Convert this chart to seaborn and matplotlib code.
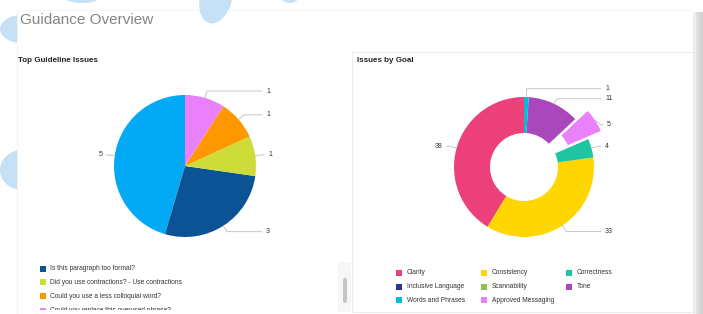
import numpy as np
import matplotlib
matplotlib.use("Agg")
import matplotlib.pyplot as plt
import seaborn as sns
from matplotlib.patches import Rectangle, Ellipse, FancyBboxPatch

# ---------------- data ----------------
guideline_labels = ["", "Is this paragraph too formal?",
                    "Did you use contractions? - Use contractions",
                    "Could you use a less colloquial word?",
                    "Could you replace this overused phrase?"]
guideline_counts = [5, 3, 1, 1, 1]
guideline_colors = ["#03A9F4", "#0B5394", "#CDDC39", "#FF9800", "#EA80FC"]

goal_labels = ["Clarity", "Consistency", "Correctness", "Inclusive Language",
               "Scannability", "Tone", "Words and Phrases", "Approved Messaging"]
goal_counts = [38, 33, 4, 0, 0, 11, 1, 5]
goal_colors = ["#EC407A", "#FFD600", "#1DC5A0", "#283593",
               "#8BC34A", "#AB47BC", "#00BCD4", "#EA80FC"]
goal_pie_order = ["Clarity", "Consistency", "Correctness",
                  "Approved Messaging", "Tone", "Words and Phrases"]
exploded_goal = "Approved Messaging"

# ---------------- figure ----------------
W, H = 703, 314
sns.set_theme(style="white")
plt.rcParams['font.family'] = ['Liberation Sans', 'DejaVu Sans']
fig = plt.figure(figsize=(W / 100, H / 100), dpi=100)
fig.patch.set_facecolor("white")
ax = fig.add_axes([0, 0, 1, 1])


def Y(py):
    return H - py


blob = "#C6E0F5"
# background blobs (behind card)
for (x, y, w, h) in [(22, 29, 44, 28), (22, 170, 44, 40)]:
    ax.add_patch(Ellipse((x, Y(y)), w, h, facecolor=blob, edgecolor="none", zorder=0))
# card
ax.add_patch(Rectangle((17, 0), 676, Y(10), facecolor="white", edgecolor="none", zorder=1))
ax.plot([17, 17], [0, Y(10)], color="#f0f0f0", lw=0.6, zorder=1.1)
ax.plot([17, 693], [Y(10), Y(10)], color="#f3f3f3", lw=0.6, zorder=1.1)
# top blobs
ax.add_patch(Ellipse((82, Y(-8)), 46, 22, facecolor=blob, edgecolor="none", zorder=2))
ax.add_patch(Ellipse((216, Y(-2)), 32, 52, angle=-15, facecolor=blob, edgecolor="none", zorder=2))
ax.add_patch(Ellipse((290, Y(-4)), 18, 14, facecolor=blob, edgecolor="none", zorder=2))
# right grey edge
for i, c in enumerate(["#eeeeee", "#e2e2e2", "#d8d8d8", "#d2d2d2"]):
    ax.add_patch(Rectangle((693 + i * 2.5, 0), 2.6, Y(12), facecolor=c, edgecolor="none", zorder=1.2))

# right panel border
ax.add_patch(Rectangle((352, Y(312)), 341, 260, facecolor="none", edgecolor="#ebebeb", lw=0.7, zorder=1.3))

# scrollbar
ax.add_patch(Rectangle((338, Y(312)), 13, 50, facecolor="#f6f6f6", edgecolor="none", zorder=1.3))
ax.add_patch(FancyBboxPatch((343, Y(303)), 4, 25, boxstyle="round,pad=0,rounding_size=2",
                            facecolor="#c4c4c4", edgecolor="none", zorder=1.4))

# titles
ax.text(20, Y(20), "Guidance Overview", fontsize=11, color="#858585", va="center", zorder=5)
ax.text(18, Y(60), "Top Guideline Issues", fontsize=5.8, fontweight="bold", color="#222222",
        va="center", zorder=5)
ax.text(357, Y(60), "Issues by Goal", fontsize=5.8, fontweight="bold", color="#222222",
        va="center", zorder=5)


def draw_leaders(wedges, values, cx, cy, r, right_end, left_end, label_vals):
    items = []
    for w, v, lab in zip(wedges, values, label_vals):
        if v <= 0:
            continue
        th = np.deg2rad((w.theta1 + w.theta2) / 2)
        d = np.array([np.cos(th), np.sin(th)])
        wc = np.array(w.center)
        p0 = wc + r * d
        ly = cy + 1.1 * r * d[1]
        items.append({"p0": p0, "d": d, "y": ly, "lab": lab, "right": d[0] >= 0})
    for side in (True, False):
        grp = sorted([it for it in items if it["right"] == side], key=lambda it: -it["y"])
        for _ in range(50):
            moved = False
            for a, b in zip(grp[:-1], grp[1:]):
                gap = a["y"] - b["y"]
                if gap < 10:
                    shift = (10 - gap) / 2
                    a["y"] += shift
                    b["y"] -= shift
                    moved = True
            if not moved:
                break
    for it in items:
        p0 = it["p0"]
        x1 = p0[0] + 0.1 * r * it["d"][0]
        if it["right"]:
            xe = max(right_end, x1 + 2)
            ax.plot([p0[0], x1, xe], [p0[1], it["y"], it["y"]], color="#bdbdbd", lw=0.6, zorder=4)
            ax.text(xe + 4, it["y"], str(it["lab"]), fontsize=5, color="#333333",
                    ha="left", va="center", zorder=5)
        else:
            xe = min(left_end, x1 - 2)
            ax.plot([p0[0], x1, xe], [p0[1], it["y"], it["y"]], color="#bdbdbd", lw=0.6, zorder=4)
            ax.text(xe - 3, it["y"], str(it["lab"]), fontsize=5, color="#333333",
                    ha="right", va="center", zorder=5)


# ---------------- left pie ----------------
pal_left = sns.color_palette(guideline_colors)
cx1, cy1, r1 = 185, Y(166), 71
w1, _ = ax.pie(guideline_counts, colors=pal_left, center=(cx1, cy1), radius=r1,
               startangle=90, counterclock=True, wedgeprops=dict(linewidth=0))
for w in w1:
    w.set_zorder(3)
draw_leaders(w1, guideline_counts, cx1, cy1, r1, 262, 106, guideline_counts)

# ---------------- donut ----------------
gmap = dict(zip(goal_labels, goal_counts))
cmap = dict(zip(goal_labels, goal_colors))
d_vals = [gmap[g] for g in goal_pie_order]
d_cols = sns.color_palette([cmap[g] for g in goal_pie_order])
d_expl = [15 if g == exploded_goal else 0 for g in goal_pie_order]
cx2, cy2, r2 = 524, Y(167), 70
w2, _ = ax.pie(d_vals, colors=d_cols, center=(cx2, cy2), radius=r2, explode=d_expl,
               startangle=90, counterclock=True, wedgeprops=dict(width=36, linewidth=0))
for w in w2:
    w.set_zorder(3)
draw_leaders(w2, d_vals, cx2, cy2, r2, 601, 446, d_vals)

ax.set_xlim(0, W)
ax.set_ylim(0, H)
ax.set_aspect("auto")
ax.axis("off")

# ---------------- legends ----------------
clip_bottom = 310
lax = fig.add_axes([17 / W, (H - clip_bottom) / H, (336 - 17) / W, (clip_bottom - 262) / H])
lax.set_xlim(17, 336)
lax.set_ylim(Y(clip_bottom), Y(262))
lax.axis("off")
rows_y = [269, 282, 296, 310.5]
for i, (lab, col) in enumerate(zip(guideline_labels[1:], guideline_colors[1:])):
    yy = Y(rows_y[i])
    lax.add_patch(Rectangle((40, yy - 3), 6, 6, facecolor=col, edgecolor="none"))
    lax.text(50, yy, lab, fontsize=4.8, color="#333333", va="center", clip_on=True)

col_sq = [396, 481, 566]
row_y2 = [273, 287, 300]
for i, (lab, col) in enumerate(zip(goal_labels, goal_colors)):
    r, c = divmod(i, 3)
    yy = Y(row_y2[r])
    ax.add_patch(Rectangle((col_sq[c], yy - 3), 6, 6, facecolor=col, edgecolor="none", zorder=5))
    ax.text(col_sq[c] + 11, yy, lab, fontsize=4.8, color="#333333", va="center", zorder=5)

fig.savefig("out.png", dpi=100)
